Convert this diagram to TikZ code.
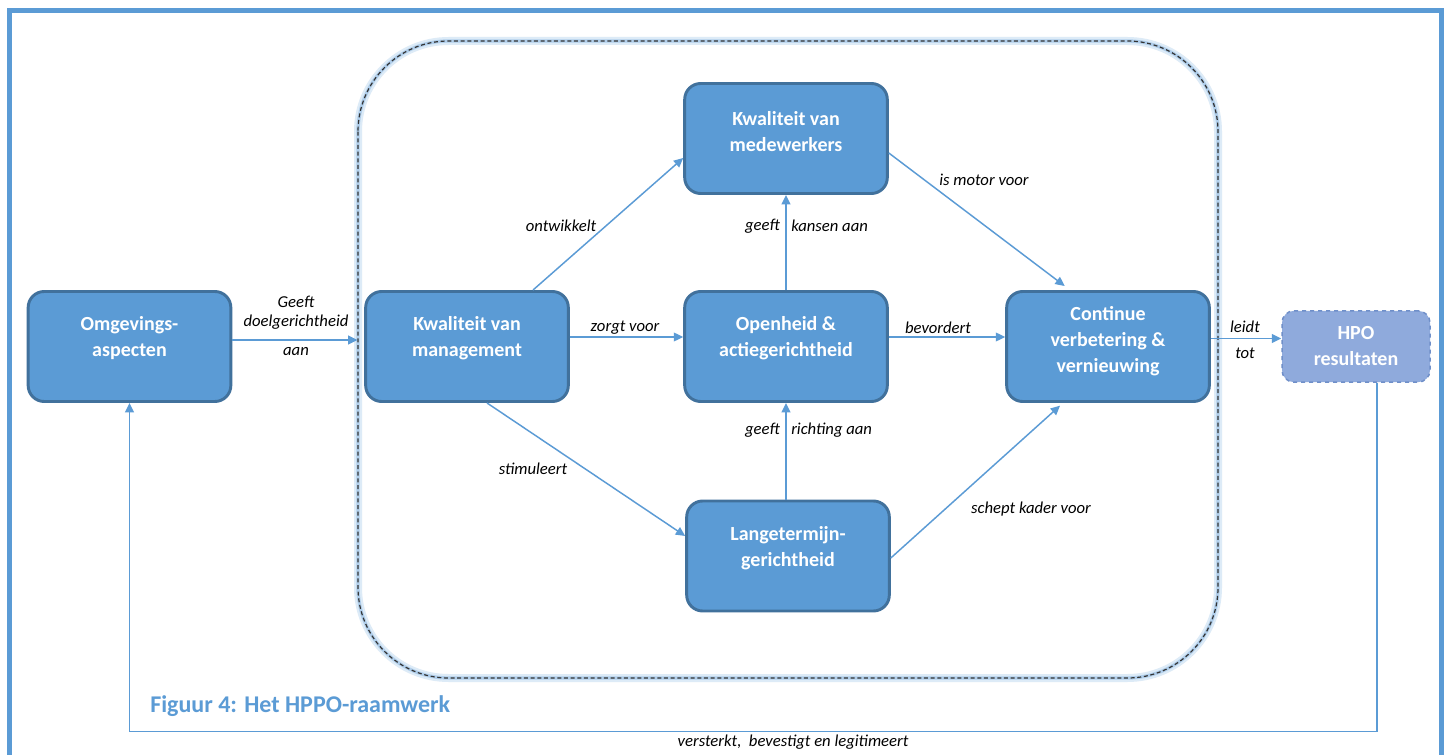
\documentclass[tikz,border=0pt]{standalone}
\usepackage{fontspec}
\setmainfont{Carlito}
\usetikzlibrary{arrows.meta,calc}
\definecolor{boxfill}{HTML}{5B9BD5}
\definecolor{boxline}{HTML}{41719C}
\definecolor{hpofill}{HTML}{8FAADC}
\definecolor{hpoline}{HTML}{6F8FC9}
\definecolor{arr}{HTML}{5B9BD5}
\definecolor{glowA}{HTML}{DDEBF7}
\definecolor{glowB}{HTML}{9DC3E6}
\definecolor{capblue}{HTML}{5B9BD5}
\begin{document}
\begin{tikzpicture}[x=0.75pt,y=-0.75pt,
  boxtext/.style={text=white, align=center, font=\bfseries\fontsize{15}{19.5}\selectfont},
  box/.style={draw=boxline, line width=2.2pt, fill=boxfill, rounded corners=12pt,
    minimum width=152pt, minimum height=82.5pt, inner sep=0pt},
  hpobox/.style={draw=hpoline, dashed, line width=1.1pt, fill=hpofill, rounded corners=9pt,
    minimum width=111pt, minimum height=53.5pt, inner sep=0pt},
  conn/.style={draw=arr, line width=1.1pt, -{Triangle[length=7pt,width=6.5pt]}},
  lbl/.style={font=\itshape\fontsize{12.5}{14}\selectfont, align=center, inner sep=0pt}
]
\useasboundingbox (0,0) rectangle (1451,755);
\fill[white] (0,0) rectangle (1451,755);
% outer frame
\draw[capblue, line width=3.8pt, line join=miter] (9.5,760) -- (9.5,10.5) -- (1441.5,10.5) -- (1441.5,760);
% dashed container with glow
\draw[glowA, line width=6pt, rounded corners=68pt] (358,41) rectangle (1218,678);
\draw[glowB, line width=2.5pt, opacity=0.7, rounded corners=68pt] (358,41) rectangle (1218,678);
\draw[black!80, line width=0.9pt, dash pattern=on 3pt off 2pt, rounded corners=68pt] (358,41) rectangle (1218,678);

% boxes
\node[box, label={[boxtext,yshift=6pt]center:Omgevings-\\aspecten}] (omg) at (129.5,346.5) {};
\node[box, label={[boxtext,yshift=6pt]center:Kwaliteit van\\management}] (mgmt) at (467,346.5) {};
\node[box, label={[boxtext,yshift=5pt]center:Kwaliteit van\\medewerkers}] (medew) at (786,138.5) {};
\node[box, label={[boxtext,yshift=6pt]center:Openheid \&\\actiegerichtheid}] (open) at (786,346.5) {};
\node[box, label={[boxtext,yshift=6pt]center:Langetermijn-\\gerichtheid}] (lang) at (788,556) {};
\node[box, label={[boxtext,yshift=4pt]center:Continue\\verbetering \&\\vernieuwing}] (cont) at (1108,346.5) {};
\node[hpobox, label={[boxtext]center:HPO\\resultaten}] (hpo) at (1356,346.5) {};

% connectors
\draw[conn, shorten >=5pt] ($(omg.east)+(0,-6.5)$) -- ($(mgmt.west)+(0,-6.5)$);
\draw[conn] ($(mgmt.east)+(0,-9.5)$) -- ($(open.west)+(0,-9.5)$);
\draw[conn] ($(open.east)+(0,-9.5)$) -- ($(cont.west)+(0,-9.5)$);
\draw[conn] ($(cont.east)+(0,-8)$) -- ($(hpo.west)+(0,-8)$);
\draw[conn] ($(mgmt.north)+(66,0)$) -- ($(medew.west)+(0,19.5)$);
\draw[conn] ($(mgmt.south)+(20,0)$) -- ($(lang.west)+(0,-20)$);
\draw[conn] (open.north) -- (medew.south);
\draw[conn] ($(lang.north)+(-2,0)$) -- (open.south);
\draw[conn, shorten >=5pt] ($(medew.east)+(0,14.5)$) -- ($(cont.north)+(-38,0)$);
\draw[conn, shorten >=3pt] ($(lang.east)+(0,2)$) -- ($(cont.south)+(-45,0)$);

% feedback loop
\coordinate (fbR) at (1377,731.5);
\coordinate (fbL) at (129.5,731.5);
\draw[conn] ($(hpo.south)+(21,0)$) -- (fbR) -- (fbL) -- (omg.south);

% labels
\node[lbl] (l1) at (296,313) {Geeft\\doelgerichtheid};
\node[lbl] (l1b) at (296,352) {aan};
\node[lbl] (l2) at (625,328) {zorgt voor};
\node[lbl] (l3) at (938,328) {bevordert};
\node[lbl] (l4) at (1245,327) {leidt};
\node[lbl] (l4b) at (1245,353) {tot};
\node[lbl] (l5) at (561,226) {ontwikkelt};
\node[lbl] (l6) at (533,469) {stimuleert};
\node[lbl, anchor=east] (l7) at (780,226) {geeft};
\node[lbl, anchor=west] (l7b) at (791,226) {kansen aan};
\node[lbl, anchor=east] (l8) at (780,430) {geeft};
\node[lbl, anchor=west] (l8b) at (791,430) {richting aan};
\node[lbl] (l9) at (984,180) {is motor voor};
\node[lbl] (l10) at (1031,509) {schept kader voor};
\node[lbl] (l11) at (793,742) {versterkt,\ \ bevestigt en legitimeert};
\node[anchor=west, inner sep=0pt, text=capblue, font=\bfseries\fontsize{18}{21}\selectfont] (cap) at (150,706) {Figuur 4: Het HPPO-raamwerk};
\end{tikzpicture}
\end{document}
